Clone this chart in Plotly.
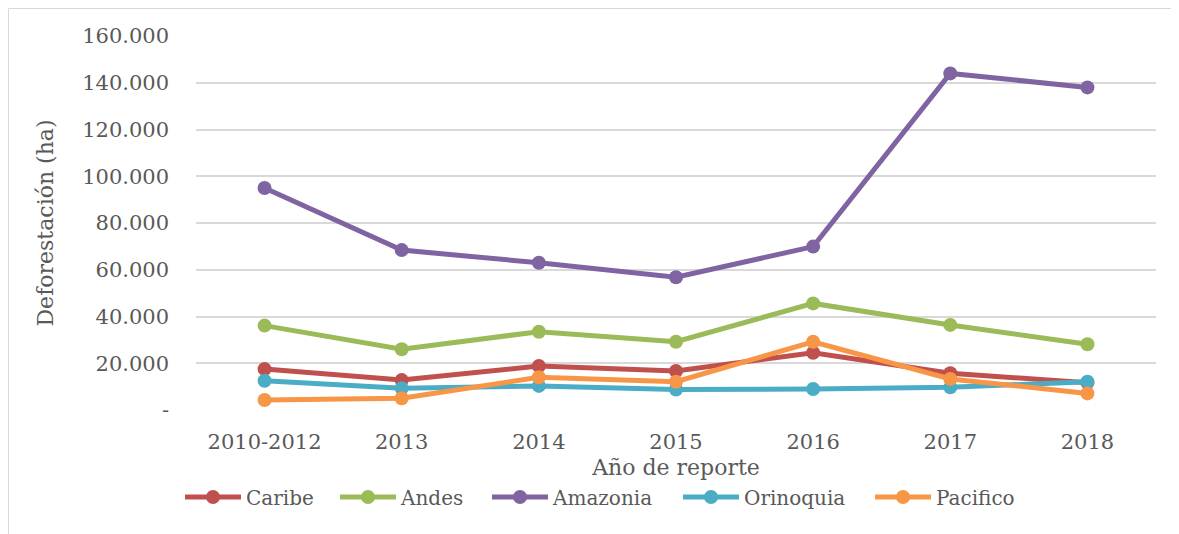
import plotly.graph_objects as go

categories = ["2010-2012", "2013", "2014", "2015", "2016", "2017", "2018"]
caribe = [17500, 12800, 18800, 16700, 24500, 15700, 11700]
andes = [36100, 26000, 33500, 29200, 45600, 36400, 28100]
amazonia = [95000, 68400, 63000, 56800, 69900, 144000, 138000]
orinoquia = [12500, 9300, 10300, 8800, 9000, 9700, 12100]
pacifico = [4300, 5000, 14000, 12100, 29200, 13300, 7100]

series = [
    ("Caribe", caribe, "#C0504D"),
    ("Andes", andes, "#9BBB59"),
    ("Amazonia", amazonia, "#8064A2"),
    ("Orinoquia", orinoquia, "#4BACC6"),
    ("Pacifico", pacifico, "#F79646"),
]

ytickvals = [0, 20000, 40000, 60000, 80000, 100000, 120000, 140000, 160000]
yticktext = ["-", "20.000", "40.000", "60.000", "80.000", "100.000", "120.000", "140.000", "160.000"]

FONT = "DejaVu Serif"
GRAY = "#595959"

# page has an 8px body margin; figure sized/margined so plot area lands at page (196..1156, 36..410)
W, H = 1171, 526
L, R, T, B = 188, 23, 28, 124
pw, ph = W - L - R, H - T - B

def px(x):  # page x -> paper fraction
    return (x - 196) / pw

def py(y):  # page y -> paper fraction
    return (410 - y) / ph

legend_starts = [180, 335, 487, 678, 870]
legend_names = ["legend", "legend2", "legend3", "legend4", "legend5"]

fig = go.Figure()
for (name, vals, color), lg in zip(series, legend_names):
    fig.add_trace(go.Scatter(
        x=categories, y=vals, name=name, mode="lines+markers",
        line=dict(color=color, width=5),
        marker=dict(color=color, size=14),
        legend=lg,
    ))

legend_layout = {}
for lg, xs in zip(legend_names, legend_starts):
    legend_layout[lg] = dict(
        orientation="h", x=px(xs), y=py(497), xanchor="left", yanchor="middle",
        font=dict(family=FONT, size=20, color=GRAY),
        itemwidth=56, bgcolor="rgba(0,0,0,0)",
    )

fig.update_layout(
    width=W, height=H,
    margin=dict(l=L, r=R, t=T, b=B),
    paper_bgcolor="white", plot_bgcolor="white",
    font=dict(family=FONT, size=20, color=GRAY),
    showlegend=True,
    xaxis=dict(
        type="category", range=[-0.5, 6.5],
        showgrid=False, zeroline=False, showline=False,
        tickfont=dict(family=FONT, size=21, color=GRAY),
        ticklabelstandoff=17,
        title=dict(text="Año de reporte", font=dict(family=FONT, size=22, color=GRAY), standoff=6),
    ),
    yaxis=dict(
        range=[0, 160000],
        tickvals=ytickvals, ticktext=yticktext,
        showgrid=True, gridcolor="#D9D9D9", gridwidth=1.5,
        zeroline=False, showline=False,
        tickfont=dict(family=FONT, size=21, color=GRAY),
        ticklabelstandoff=26,
        title=dict(text="Deforestación (ha)", font=dict(family=FONT, size=22, color=GRAY), standoff=22),
    ),
    shapes=[dict(
        type="rect", xref="paper", yref="paper",
        x0=px(8.5), x1=px(1200), y0=py(560), y1=py(8.5),
        line=dict(color="#D9D9D9", width=1), fillcolor="rgba(0,0,0,0)", layer="below",
    )],
    **legend_layout,
)

fig.write_html("out.html")
